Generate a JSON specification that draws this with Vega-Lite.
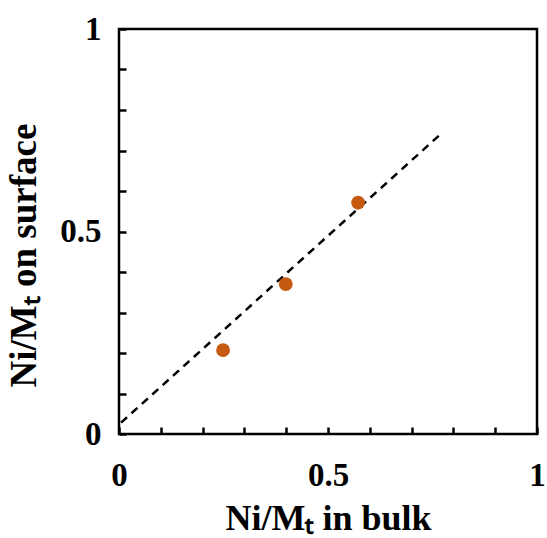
{
  "$schema": "https://vega.github.io/schema/vega-lite/v6.json",
  "autosize": "none",
  "width": 418,
  "height": 405,
  "padding": {"left": 119, "top": 29, "right": 10, "bottom": 104},
  "background": "white",
  "config": {
    "view": {"stroke": "black", "strokeWidth": 2.5},
    "axis": {
      "domain": false,
      "grid": false,
      "ticks": true,
      "tickColor": "black",
      "tickWidth": 2.5,
      "tickSize": -7,
      "labelFlush": false,
      "labelFont": "Liberation Serif",
      "labelFontWeight": "bold",
      "labelFontSize": 33,
      "labelColor": "black",
      "titleFont": "Liberation Serif",
      "titleFontWeight": "bold",
      "titleFontSize": 36,
      "titleColor": "black"
    }
  },
  "datasets": {
    "pts": [
      {"bulk": 0.249, "surface": 0.207},
      {"bulk": 0.399, "surface": 0.370},
      {"bulk": 0.572, "surface": 0.571}
    ],
    "fit": [
      {"bulk": 0.005, "surface": 0.028},
      {"bulk": 0.77, "surface": 0.741}
    ]
  },
  "layer": [
    {
      "data": {"name": "fit"},
      "mark": {"type": "line", "color": "black", "strokeWidth": 2.5, "strokeDash": [8, 6]},
      "encoding": {
        "x": {"field": "bulk", "type": "quantitative"},
        "y": {"field": "surface", "type": "quantitative"}
      }
    },
    {
      "data": {"name": "pts"},
      "mark": {"type": "circle", "color": "#C55A11", "opacity": 1, "size": 190},
      "encoding": {
        "x": {
          "field": "bulk", "type": "quantitative",
          "scale": {"domain": [0, 1], "nice": false},
          "axis": {
            "title": "Ni/Mₜ in bulk",
            "values": [0, 0.1, 0.2, 0.3, 0.4, 0.5, 0.6, 0.7, 0.8, 0.9, 1],
            "labelExpr": "datum.value == 0 ? '0' : datum.value == 0.5 ? '0.5' : datum.value == 1 ? '1' : ''",
            "labelPadding": 32,
            "titlePadding": 9
          }
        },
        "y": {
          "field": "surface", "type": "quantitative",
          "scale": {"domain": [0, 1], "nice": false},
          "axis": {
            "title": "Ni/Mₜ on surface",
            "titleFontSize": 37,
            "titleY": 226,
            "values": [0, 0.1, 0.2, 0.3, 0.4, 0.5, 0.6, 0.7, 0.8, 0.9, 1],
            "labelExpr": "datum.value == 0 ? '0' : datum.value == 0.5 ? '0.5' : datum.value == 1 ? '1' : ''",
            "labelPadding": 25,
            "titlePadding": 16
          }
        }
      }
    }
  ]
}
